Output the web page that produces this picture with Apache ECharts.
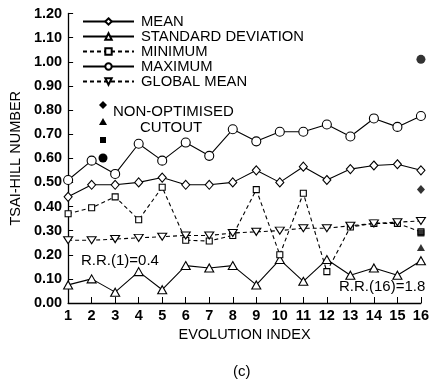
<!DOCTYPE html>
<html><head><meta charset="utf-8">
<script src="https://cdn.jsdelivr.net/npm/echarts@6/dist/echarts.min.js"></script>
<style>html,body{margin:0;padding:0;background:#fff}#c{width:432px;height:386px}</style>
</head><body><div id="c"></div>
<script>
const evolutionIndex = [1,2,3,4,5,6,7,8,9,10,11,12,13,14,15,16];
const meanVals   = [0.44,0.49,0.49,0.50,0.52,0.49,0.49,0.50,0.55,0.50,0.565,0.51,0.555,0.57,0.575,0.55];
const stdVals    = [0.075,0.10,0.045,0.13,0.055,0.155,0.145,0.155,0.075,0.18,0.09,0.18,0.115,0.145,0.115,0.175];
const minVals    = [0.37,0.395,0.44,0.345,0.48,0.26,0.257,0.28,0.47,0.20,0.455,0.13,0.315,0.33,0.33,0.295];
const maxVals    = [0.51,0.59,0.535,0.66,0.59,0.665,0.61,0.72,0.67,0.71,0.71,0.74,0.69,0.765,0.73,0.775];
const globalMean = [0.26,0.26,0.265,0.27,0.275,0.28,0.28,0.29,0.295,0.30,0.31,0.31,0.32,0.33,0.335,0.34];
const cutoutIndex = 16;
const cutoutMax = 1.01, cutoutMean = 0.47, cutoutMin = 0.29, cutoutStd = 0.23;
const yTicks = [0,0.1,0.2,0.3,0.4,0.5,0.6,0.7,0.8,0.9,1.0,1.1,1.2];

const FONT = '"Liberation Sans", Arial, Helvetica, sans-serif';
const invTri = 'path://M0,0 L10,0 L5,9 Z';
const pairs = v => evolutionIndex.map((x,i)=>[x,v[i]]);
const hollow = {color:'#fff', borderColor:'#000', borderWidth:1.1};

const chart = echarts.init(document.getElementById('c'), null, {renderer:'canvas'});
chart.setOption({
  animation:false,
  textStyle:{fontFamily:FONT},
  grid:{left:68, right:8, top:13.5, bottom:83},
  xAxis:{type:'value', min:1, max:16, interval:1,
    name:'EVOLUTION INDEX', nameLocation:'middle', nameGap:23,
    nameTextStyle:{fontSize:14.5, color:'#000', fontFamily:FONT},
    axisLine:{lineStyle:{color:'#000', width:1.3}},
    axisTick:{inside:true, length:6, lineStyle:{color:'#000'}},
    axisLabel:{fontSize:14.5, color:'#000', margin:5, fontWeight:'bold', fontFamily:FONT},
    splitLine:{show:false}},
  yAxis:{type:'value', min:0, max:1.2, interval:0.1,
    name:'TSAI-HILL NUMBER', nameLocation:'middle', nameGap:42, nameRotate:90,
    nameTextStyle:{fontSize:14.5, color:'#000', fontFamily:FONT},
    axisLine:{show:true, lineStyle:{color:'#000', width:1.3}},
    axisTick:{show:true, inside:true, length:5, lineStyle:{color:'#000'}},
    axisLabel:{fontSize:14.5, color:'#000', margin:6, fontWeight:'bold', fontFamily:FONT,
      formatter:v=>{const t=yTicks.find(k=>Math.abs(k-v)<1e-6);return (t!==undefined?t:v).toFixed(2);}},
    splitLine:{show:false}},
  legend:{orient:'vertical', left:77, top:9, itemWidth:51, itemHeight:8, itemGap:0,
    textStyle:{fontSize:14.8, color:'#000', fontFamily:FONT, padding:[0,0,0,2], lineHeight:13},
    data:['MEAN','STANDARD DEVIATION','MINIMUM','MAXIMUM','GLOBAL MEAN']},
  series:[
    {name:'MEAN', type:'line', data:pairs(meanVals), symbol:'diamond', symbolSize:[8,9],
      lineStyle:{color:'#000', width:1.1}, itemStyle:hollow, z:5},
    {name:'STANDARD DEVIATION', type:'line', data:pairs(stdVals), symbol:'triangle', symbolSize:[9,8],
      lineStyle:{color:'#000', width:1.1}, itemStyle:hollow, z:5},
    {name:'MINIMUM', type:'line', data:pairs(minVals), symbol:'rect', symbolSize:6,
      lineStyle:{color:'#000', width:1.1, type:[4,3]}, itemStyle:hollow, z:5},
    {name:'MAXIMUM', type:'line', data:pairs(maxVals), symbol:'circle', symbolSize:9,
      lineStyle:{color:'#000', width:1.1}, itemStyle:hollow, z:5},
    {name:'GLOBAL MEAN', type:'line', data:pairs(globalMean), symbol:invTri, symbolSize:[9,7],
      lineStyle:{color:'#000', width:1.1, type:[4,3]}, itemStyle:hollow, z:5},
    {name:'cutout', type:'scatter', z:6, itemStyle:{color:'#000'},
      data:[
        {value:[cutoutIndex,cutoutMax], symbol:'circle', symbolSize:9},
        {value:[cutoutIndex,cutoutMean], symbol:'diamond', symbolSize:[8,9]},
        {value:[cutoutIndex,cutoutMin], symbol:'rect', symbolSize:7},
        {value:[cutoutIndex,cutoutStd], symbol:'triangle', symbolSize:[8,7]}
      ]}
  ],
  graphic:[
    {type:'polygon', shape:{points:[[103,101],[107,105],[103,109],[99,105]]}, style:{fill:'#000'}},
    {type:'polygon', shape:{points:[[103,118],[107,125],[99,125]]}, style:{fill:'#000'}},
    {type:'rect', shape:{x:100, y:137, width:6, height:6}, style:{fill:'#000'}},
    {type:'circle', shape:{cx:103, cy:158, r:4.5}, style:{fill:'#000'}},
    {type:'text', left:113, top:104, style:{text:'NON-OPTIMISED', font:'15px '+FONT, fill:'#000'}},
    {type:'text', left:140, top:120, style:{text:'CUTOUT', font:'15px '+FONT, fill:'#000'}},
    {type:'text', left:81, top:253, style:{text:'R.R.(1)=0.4', font:'15px '+FONT, fill:'#000'}},
    {type:'text', left:339, top:279, style:{text:'R.R.(16)=1.8', font:'15px '+FONT, fill:'#000'}},
    {type:'text', left:233, top:364, style:{text:'(c)', font:'15px '+FONT, fill:'#000'}}
  ]
});
</script></body></html>
